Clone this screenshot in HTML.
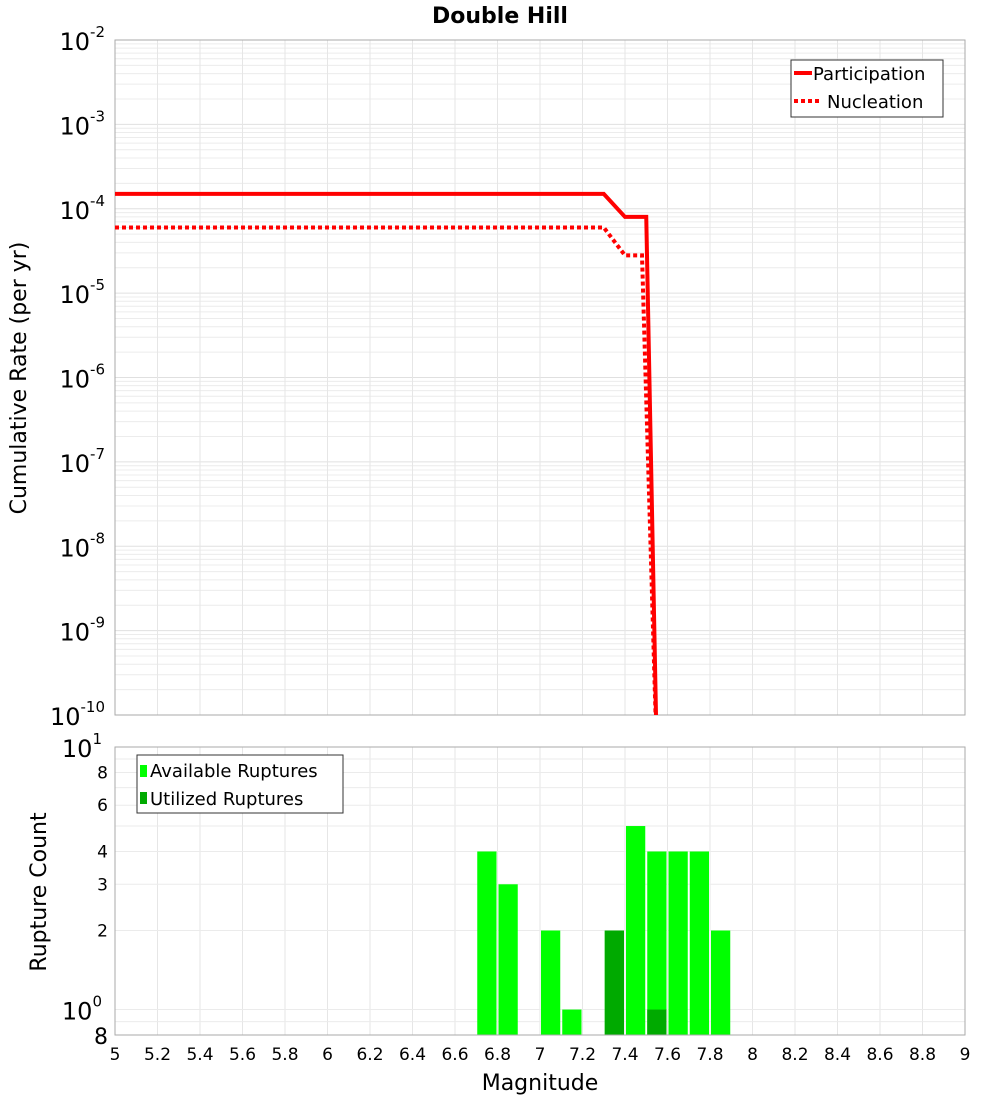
<!DOCTYPE html>
<html><head><meta charset="utf-8"><style>
body{margin:0;background:#fff;font-family:"Liberation Sans","DejaVu Sans",sans-serif}
svg text{font-family:"DejaVu Sans","Liberation Sans",sans-serif}
</style></head><body>
<svg id="c" width="1000" height="1100" xmlns="http://www.w3.org/2000/svg">
<text x="500" y="23" text-anchor="middle" font-size="22" font-weight="bold">Double Hill</text>
<text transform="translate(26,378) rotate(-90)" text-anchor="middle" font-size="22">Cumulative Rate (per yr)</text>
<text transform="translate(46,892) rotate(-90)" text-anchor="middle" font-size="22">Rupture Count</text>
<text x="540" y="1090" text-anchor="middle" font-size="22">Magnitude</text>
<g id="topg"></g><g id="botg"></g>
</svg>
<script>
const partMags=[5,7.3,7.4,7.5,7.55];
const partRates=[1.5e-4,1.5e-4,8e-5,8e-5,1e-12];
const nuclMags=[5,7.3,7.4,7.48,7.55];
const nuclRates=[6e-5,6e-5,2.8e-5,2.8e-5,1e-12];
const binCenters=[6.75,6.85,7.05,7.15,7.35,7.45,7.55,7.65,7.75,7.85];
const availCounts=[4,3,2,1,2,5,4,4,4,2];
const usedCenters=[7.35,7.55];
const usedCounts=[2,1];
const xTicks=[5,5.2,5.4,5.6,5.8,6,6.2,6.4,6.6,6.8,7,7.2,7.4,7.6,7.8,8,8.2,8.4,8.6,8.8,9];
const yExps=[-2,-3,-4,-5,-6,-7,-8,-9,-10];
const botTicks=[8,6,4,3,2];

const NS="http://www.w3.org/2000/svg";
const X0=115,X1=965;
const xs=m=>X0+(m-5)/4*(X1-X0);
const T0=40,T1=715;
const yT=v=>T0+(-2-Math.log10(v))/8*(T1-T0);
const B0=747,B1=1035,bl=Math.log10(0.8);
const yB=v=>B0+(1-Math.log10(v))/(1-bl)*(B1-B0);
function mk(p,tag,at,txt){const e=document.createElementNS(NS,tag);for(const k in at)e.setAttribute(k,at[k]);if(txt!==undefined)e.textContent=txt;p.appendChild(e);return e;}
const topG=document.getElementById('topg'),botG=document.getElementById('botg');
for(let d=-10;d<-2;d++)for(let k=1;k<10;k++){const v=k*Math.pow(10,d);const g=mk(topG,'line',{x1:X0,x2:X1,y1:yT(v),y2:yT(v),stroke:k==1?'#e0e0e0':'#ececec','stroke-width':1});

}
xTicks.forEach(t=>{const g=mk(topG,'line',{x1:xs(t),x2:xs(t),y1:T0,y2:T1,stroke:'#e6e6e6'});


const h=mk(botG,'line',{x1:xs(t),x2:xs(t),y1:B0,y2:B1,stroke:'#e6e6e6'});


const l=mk(botG,'text',{x:xs(t),y:1060,'text-anchor':'middle','font-size':17},String(t));

});
yExps.forEach(e=>{const y=yT(Math.pow(10,e));const t=mk(topG,'text',{x:105,y:y+10,'text-anchor':'end','font-size':24});


mk(t,'tspan',{},'10');mk(t,'tspan',{dy:-13,'font-size':15},String(e));});
mk(topG,'rect',{x:X0,y:T0,width:X1-X0,height:T1-T0,fill:'none',stroke:'#aaa'});
function path(ms,rs){return ms.map((m,i)=>(i?'L':'M')+xs(m)+','+Math.min(yT(rs[i]),760)).join(' ');}
const cp=document.createElementNS(NS,'clipPath');cp.setAttribute('id','cl');mk(cp,'rect',{x:X0,y:T0,width:X1-X0,height:T1-T0});topG.appendChild(cp);
const pl=mk(topG,'path',{d:path(partMags,partRates),fill:'none',stroke:'#f00','stroke-width':4,'clip-path':'url(#cl)'});


const nl=mk(topG,'path',{d:path(nuclMags,nuclRates),fill:'none',stroke:'#f00','stroke-width':4,'stroke-dasharray':'4 3','clip-path':'url(#cl)'});


const lg=mk(topG,'g',{});


mk(lg,'rect',{x:791,y:60,width:152,height:57,fill:'#fff',stroke:'#333'});
mk(lg,'line',{x1:794,x2:812,y1:73,y2:73,stroke:'#f00','stroke-width':4});
mk(lg,'text',{x:813,y:80,'font-size':18},'Participation');
mk(lg,'line',{x1:794,x2:822,y1:101,y2:101,stroke:'#f00','stroke-width':4,'stroke-dasharray':'4 3'});
mk(lg,'text',{x:827,y:108,'font-size':18},'Nucleation');
[0.8,0.9,1,2,3,4,5,6,7,8,9,10].forEach(v=>{const g=mk(botG,'line',{x1:X0,x2:X1,y1:yB(v),y2:yB(v),stroke:'#ebebeb'});

});
botTicks.forEach(v=>{const t=mk(botG,'text',{x:108,y:yB(v)+6,'text-anchor':'end','font-size':17},String(v));

});
[1,10].forEach(v=>{const t=mk(botG,'text',{x:102,y:yB(v)+10,'text-anchor':'end','font-size':24});


mk(t,'tspan',{},'10');mk(t,'tspan',{dy:-13,'font-size':15},v==1?'0':'1');});
const t8=mk(botG,'text',{x:108,y:B1+9,'text-anchor':'end','font-size':22},'8');


const w=xs(5.1)-xs(5);
binCenters.forEach((c,i)=>{const r=mk(botG,'rect',{x:xs(c)-w/2+1,y:yB(availCounts[i]),width:w-2,height:B1-yB(availCounts[i]),fill:'#00ff00'});

});
usedCenters.forEach((c,i)=>{const r=mk(botG,'rect',{x:xs(c)-w/2+1,y:yB(usedCounts[i]),width:w-2,height:B1-yB(usedCounts[i]),fill:'#00aa00'});

});
mk(botG,'rect',{x:X0,y:B0,width:X1-X0,height:B1-B0,fill:'none',stroke:'#aaa'});
const lb=mk(botG,'g',{});


mk(lb,'rect',{x:137,y:755,width:206,height:58,fill:'#fff',stroke:'#333'});
mk(lb,'rect',{x:140,y:765,width:7,height:12,fill:'#00ff00'});
mk(lb,'text',{x:150,y:777,'font-size':18},'Available Ruptures');
mk(lb,'rect',{x:140,y:792,width:7,height:12,fill:'#00aa00'});
mk(lb,'text',{x:150,y:805,'font-size':18},'Utilized Ruptures');
</script>
</body></html>
